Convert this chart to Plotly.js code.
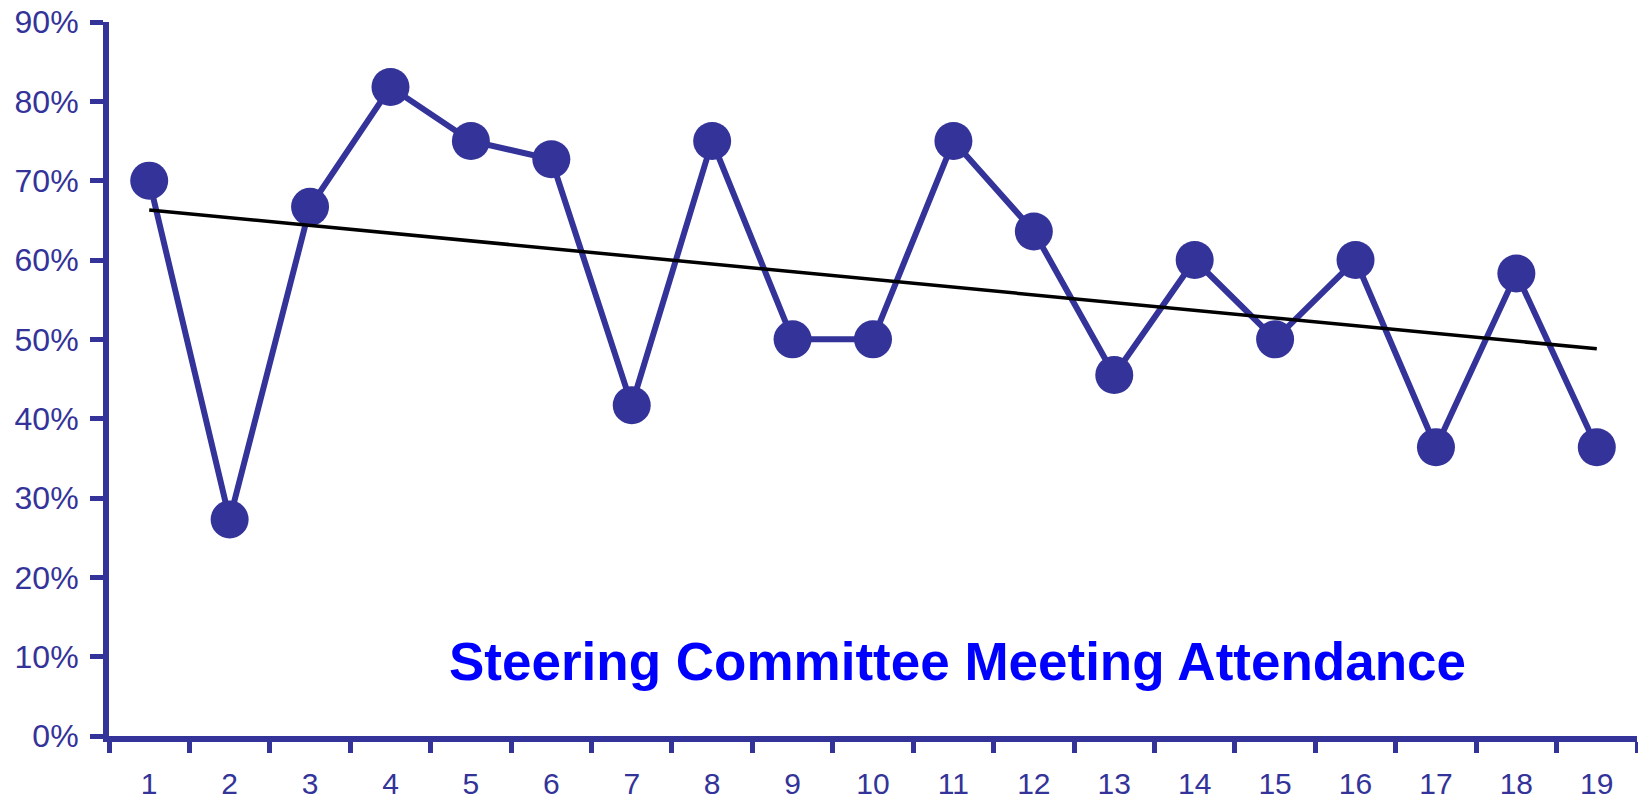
<!DOCTYPE html>
<html>
<head>
<meta charset="utf-8">
<script src="https://cdn.plot.ly/plotly-3.0.1.min.js"></script>
<style>html,body{margin:0;padding:0;background:#fff;}#chart{width:1638px;height:804px;}</style>
</head>
<body>
<div id="chart"></div>
<script>
const meetings = ["1","2","3","4","5","6","7","8","9","10","11","12","13","14","15","16","17","18","19"];
const attendance = [70.0, 27.3, 66.7, 81.8, 75.0, 72.7, 41.7, 75.0, 50.0, 50.0, 75.0, 63.6, 45.5, 60.0, 50.0, 60.0, 36.4, 58.3, 36.4];
const trendX = ["1", "19"];
const trendY = [66.3, 48.8];
const yTicks = [0, 10, 20, 30, 40, 50, 60, 70, 80, 90];
const yTickText = ["0%", "10%", "20%", "30%", "40%", "50%", "60%", "70%", "80%", "90%"];
const chartTitle = "Steering Committee Meeting Attendance";

const navy = "#333399";
const traces = [
  {
    x: meetings, y: attendance, type: "scatter", mode: "lines+markers",
    line: {color: navy, width: 6},
    marker: {color: navy, size: 38},
    cliponaxis: false
  },
  {
    x: trendX, y: trendY, type: "scatter", mode: "lines",
    line: {color: "#000000", width: 3.5},
    cliponaxis: false
  }
];
const layout = {
  width: 1638, height: 804,
  margin: {l: 109, r: 1, t: 22, b: 68},
  paper_bgcolor: "#ffffff", plot_bgcolor: "#ffffff",
  showlegend: false, hovermode: false,
  font: {family: "Liberation Sans, Arial, sans-serif", color: navy},
  xaxis: {
    type: "category", tickson: "boundaries",
    range: [-0.5, 18.5], autorange: false,
    showline: true, linecolor: navy, linewidth: 6,
    ticks: "outside", ticklen: 11, tickwidth: 5, tickcolor: navy,
    showgrid: false, zeroline: false,
    tickfont: {size: 30, color: navy},
    ticklabelstandoff: 16
  },
  yaxis: {
    range: [0, 90], autorange: false,
    tickmode: "array", tickvals: yTicks, ticktext: yTickText,
    showline: true, linecolor: navy, linewidth: 6,
    ticks: "outside", ticklen: 13, tickwidth: 5, tickcolor: navy,
    showgrid: false, zeroline: false,
    tickfont: {size: 32, color: navy},
    ticklabelstandoff: 5
  },
  annotations: [{
    text: "<b>" + chartTitle + "</b>",
    xref: "paper", yref: "paper", x: 0.555, y: 0.105,
    xanchor: "center", yanchor: "middle", showarrow: false,
    font: {size: 53, color: "#0000FF", family: "Liberation Sans, Arial, sans-serif"}
  }]
};
Plotly.newPlot("chart", traces, layout, {displayModeBar: false, staticPlot: true});
</script>
</body>
</html>
